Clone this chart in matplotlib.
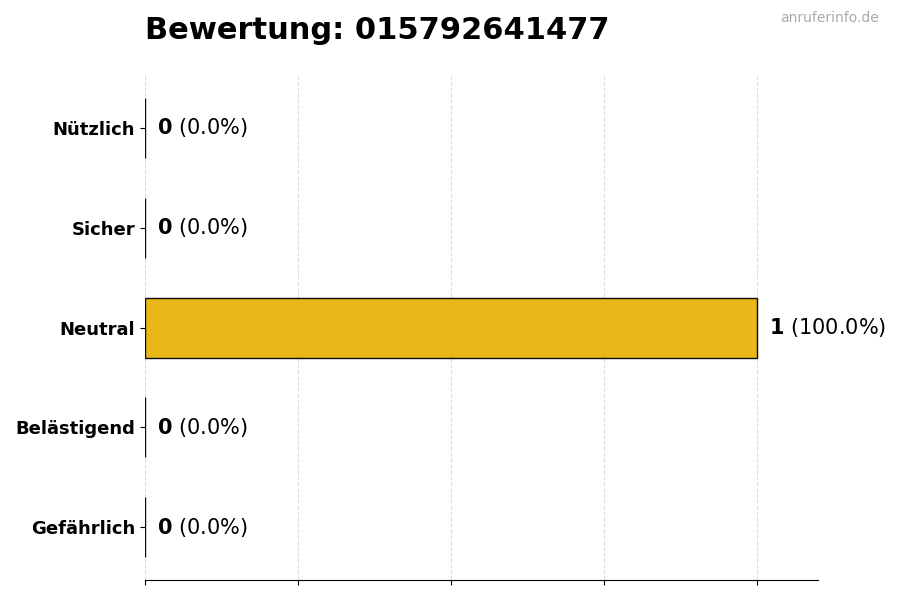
import numpy as np
import matplotlib
matplotlib.use("Agg")
import matplotlib.pyplot as plt

# data, top to bottom
categories = ['Nützlich', 'Sicher', 'Neutral', 'Belästigend', 'Gefährlich']
counts = [0, 0, 1, 0, 0]
bar_colors = ['#2E9E4F', '#6CBF4A', '#E8B30A', '#E8762C', '#D62828']
phone = '015792641477'

total = sum(counts)
percents = [100.0 * c / total if total else 0.0 for c in counts]

fig, ax = plt.subplots(figsize=(9, 6), dpi=100)
fig.subplots_adjust(left=0.161, right=0.909, top=0.875, bottom=0.033)

y = np.arange(len(categories))
ax.barh(y, counts, height=0.6, color=bar_colors, edgecolor='black',
        linewidth=1, alpha=0.95, zorder=2)

ax.set_yticks(y)
ax.set_yticklabels(categories, fontsize=13, fontweight='bold')
ax.invert_yaxis()

ax.set_xlim(0, max(counts) * 1.1)
ax.set_xticks(np.linspace(0, max(counts), 5))
ax.set_xticklabels([])

ax.grid(axis='x', linestyle='--', color='#dddddd', linewidth=0.8, zorder=0)
ax.set_axisbelow(True)

for s in ['top', 'right', 'left']:
    ax.spines[s].set_visible(False)

for yi, c, p in zip(y, counts, percents):
    ax.annotate(r'$\bf{' + str(c) + '}$' + f' ({p:.1f}%)', xy=(c, yi),
                xytext=(9, 0), textcoords='offset points',
                va='center', ha='left', fontsize=15)

ax.set_title(f'Bewertung: {phone}', loc='left', fontsize=22,
             fontweight='bold', pad=26)
fig.text(0.976, 0.97, 'anruferinfo.de', ha='right', va='center',
         fontsize=10, color='#aaaaaa')

fig.savefig('out.png', dpi=100)
